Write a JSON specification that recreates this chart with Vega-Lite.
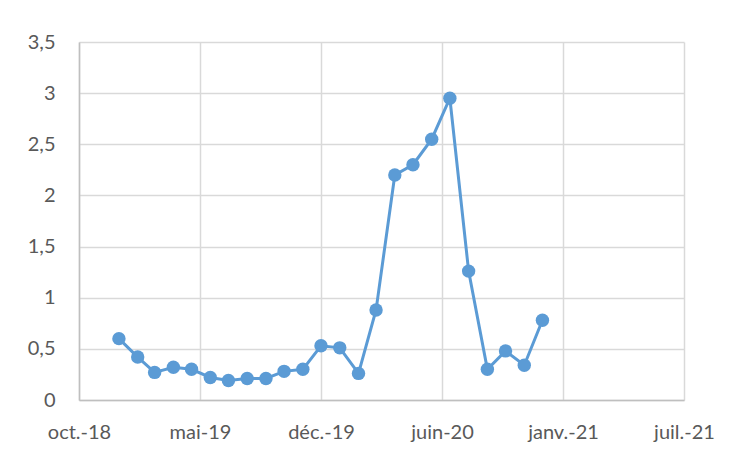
{
  "$schema": "https://vega.github.io/schema/vega-lite/v6.json",
  "width": 605,
  "height": 358,
  "autosize": {"type": "none"},
  "padding": {"left": 79, "top": 42, "right": 52, "bottom": 54},
  "background": "white",
  "config": {
    "view": {"stroke": null},
    "font": "Lato",
    "locale": {
      "number": {"decimal": ",", "thousands": " ", "grouping": [3], "currency": ["", " €"]},
      "time": {
        "dateTime": "%A %e %B %Y à %X",
        "date": "%d/%m/%Y",
        "time": "%H:%M:%S",
        "periods": ["AM", "PM"],
        "days": ["dimanche", "lundi", "mardi", "mercredi", "jeudi", "vendredi", "samedi"],
        "shortDays": ["dim.", "lun.", "mar.", "mer.", "jeu.", "ven.", "sam."],
        "months": ["janvier", "février", "mars", "avril", "mai", "juin", "juillet", "août", "septembre", "octobre", "novembre", "décembre"],
        "shortMonths": ["janv.", "févr.", "mars", "avr.", "mai", "juin", "juil.", "août", "sept.", "oct.", "nov.", "déc."]
      }
    }
  },
  "data": {
    "values": [
      {"date": "2019-01-01", "value": 0.6},
      {"date": "2019-02-01", "value": 0.42},
      {"date": "2019-03-01", "value": 0.27},
      {"date": "2019-04-01", "value": 0.32},
      {"date": "2019-05-01", "value": 0.3},
      {"date": "2019-06-01", "value": 0.22},
      {"date": "2019-07-01", "value": 0.19},
      {"date": "2019-08-01", "value": 0.21},
      {"date": "2019-09-01", "value": 0.21},
      {"date": "2019-10-01", "value": 0.28},
      {"date": "2019-11-01", "value": 0.3},
      {"date": "2019-12-01", "value": 0.53},
      {"date": "2020-01-01", "value": 0.51},
      {"date": "2020-02-01", "value": 0.26},
      {"date": "2020-03-01", "value": 0.88},
      {"date": "2020-04-01", "value": 2.2},
      {"date": "2020-05-01", "value": 2.3},
      {"date": "2020-06-01", "value": 2.55},
      {"date": "2020-07-01", "value": 2.95},
      {"date": "2020-08-01", "value": 1.26},
      {"date": "2020-09-01", "value": 0.3},
      {"date": "2020-10-01", "value": 0.48},
      {"date": "2020-11-01", "value": 0.34},
      {"date": "2020-12-01", "value": 0.78}
    ]
  },
  "encoding": {
    "x": {
      "field": "date",
      "type": "temporal",
      "title": null,
      "scale": {
        "type": "utc",
        "domain": [
          {"year": 2018, "month": 10, "date": 27, "utc": true},
          {"year": 2021, "month": 7, "date": 23, "utc": true}
        ]
      },
      "axis": {
        "values": [
          {"year": 2018, "month": 10, "date": 27, "utc": true},
          {"year": 2019, "month": 5, "date": 15, "utc": true},
          {"year": 2019, "month": 12, "date": 1, "utc": true},
          {"year": 2020, "month": 6, "date": 18, "utc": true},
          {"year": 2021, "month": 1, "date": 4, "utc": true},
          {"year": 2021, "month": 7, "date": 23, "utc": true}
        ],
        "labelExpr": "utcFormat(datum.value, '%b-%y')",
        "labelFontSize": 20,
        "labelColor": "#595959",
        "labelPadding": 22,
        "ticks": false,
        "domainColor": "#bfbfbf",
        "domainWidth": 1.5,
        "gridColor": "#d9d9d9",
        "gridWidth": 1.5,
        "labelFlush": false,
        "labelOverlap": false
      }
    },
    "y": {
      "field": "value",
      "type": "quantitative",
      "title": null,
      "scale": {"domain": [0, 3.5], "nice": false},
      "axis": {
        "values": [0, 0.5, 1, 1.5, 2, 2.5, 3, 3.5],
        "format": "~f",
        "labelFontSize": 20,
        "labelColor": "#595959",
        "labelPadding": 24,
        "ticks": false,
        "domainColor": "#bfbfbf",
        "domainWidth": 1.5,
        "gridColor": "#d9d9d9",
        "gridWidth": 1.5
      }
    }
  },
  "layer": [
    {"mark": {"type": "line", "color": "#5b9bd5", "strokeWidth": 3}},
    {"mark": {"type": "point", "filled": true, "opacity": 1, "color": "#5b9bd5", "size": 180}}
  ]
}
